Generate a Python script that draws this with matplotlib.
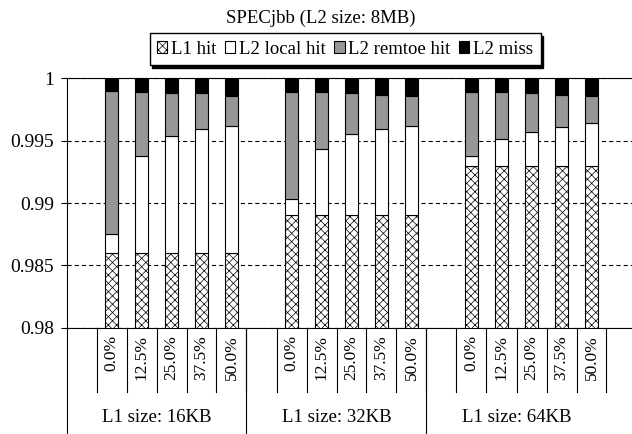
import matplotlib
matplotlib.use("Agg")
import matplotlib.pyplot as plt
import numpy as np

plt.rcParams['font.family'] = ['Liberation Serif', 'DejaVu Serif']
plt.rcParams['hatch.linewidth'] = 0.5
plt.rcParams['lines.scale_dashes'] = False

# shares per access type, one value per bar
groups = ["L1 size: 16KB", "L1 size: 32KB", "L1 size: 64KB"]
ratios = ["0.0%", "12.5%", "25.0%", "37.5%", "50.0%"]
series = ["L1 hit", "L2 local hit", "L2 remtoe hit", "L2 miss"]

l1_hit = [0.986, 0.986, 0.986, 0.986, 0.986,
          0.989, 0.989, 0.989, 0.989, 0.989,
          0.993, 0.993, 0.993, 0.993, 0.993]
l2_local = [0.0015, 0.0078, 0.0094, 0.0099, 0.0102,
            0.0013, 0.0053, 0.0065, 0.0069, 0.0072,
            0.0008, 0.0021, 0.0027, 0.0031, 0.0034]
l2_remote = [0.0115, 0.0051, 0.0034, 0.0029, 0.0024,
             0.0086, 0.0046, 0.0033, 0.0028, 0.0024,
             0.0051, 0.0038, 0.0031, 0.0026, 0.0022]
l2_miss = [0.0010, 0.0011, 0.0012, 0.0012, 0.0014,
           0.0011, 0.0011, 0.0012, 0.0013, 0.0014,
           0.0011, 0.0011, 0.0012, 0.0013, 0.0014]

fig = plt.figure(figsize=(6.32, 4.34), dpi=100)
ax = fig.add_axes([66.5 / 632, 1 - 327.7 / 434, 1 - 66.5 / 632, 249.4 / 434])

# every group: one empty slot then five bars
xs = np.array([6 * g + 1 + j for g in range(3) for j in range(5)])
w = 0.43
styles = [dict(color="white", hatch="xxxx"),
          dict(color="white"),
          dict(color="#979797"),
          dict(color="black")]
bottom = np.zeros(len(xs))
for name, vals, st in zip(series, [l1_hit, l2_local, l2_remote, l2_miss], styles):
    vals = np.array(vals)
    ax.bar(xs, vals, w, bottom=bottom, facecolor=st["color"], edgecolor="black",
           linewidth=0.8, hatch=st.get("hatch"), label=name, zorder=3)
    bottom += vals

ax.set_xlim(-0.5, -0.5 + 565.5 / 30)
ax.set_ylim(0.98, 1.0)
ax.set_yticks([0.98, 0.985, 0.99, 0.995, 1.0])
ax.set_yticklabels(["0.98", "0.985", "0.99", "0.995", "1"], fontsize=14)
ax.tick_params(axis="y", length=4.5, width=0.8, pad=4.5)
ax.yaxis.grid(True, color="black", linestyle=(0, (3, 2.2)), linewidth=0.8, zorder=1)
ax.set_xticks([])
ax.spines["right"].set_visible(False)
for s in ["left", "top", "bottom"]:
    ax.spines[s].set_linewidth(0.8)

# two-level category axis
tr = ax.get_xaxis_transform()
for g in range(3):
    for j in range(6):
        ax.plot([6 * g + 0.5 + j] * 2, [0, -0.258], color="black", lw=0.8,
                transform=tr, clip_on=False)
    ax.plot([6 * g - 0.5] * 2, [0, -0.43], color="black", lw=0.8,
            transform=tr, clip_on=False)
    for j, r in enumerate(ratios):
        ax.text(6 * g + 1 + j, -0.03, r, rotation=90, ha="center", va="top",
                fontsize=12.5, transform=tr)
    ax.text(6 * g + 2.5, -0.362, groups[g], ha="center", va="center",
            fontsize=13.5, transform=tr)

fig.text(0.507, 1 - 18 / 434, "SPECjbb (L2 size: 8MB)", ha="center", va="center",
         fontsize=13.5)

fig.legend(loc="center", bbox_to_anchor=(0.546, 1 - 49 / 434), ncol=4,
           fontsize=13.5, frameon=True, fancybox=False, edgecolor="black",
           framealpha=1, handlelength=0.55, handleheight=0.55, handletextpad=0.2,
           columnspacing=0.45, borderpad=0.4,
           shadow={"facecolor": "black", "edgecolor": "black", "alpha": 1})

fig.savefig("out.png", dpi=100)
